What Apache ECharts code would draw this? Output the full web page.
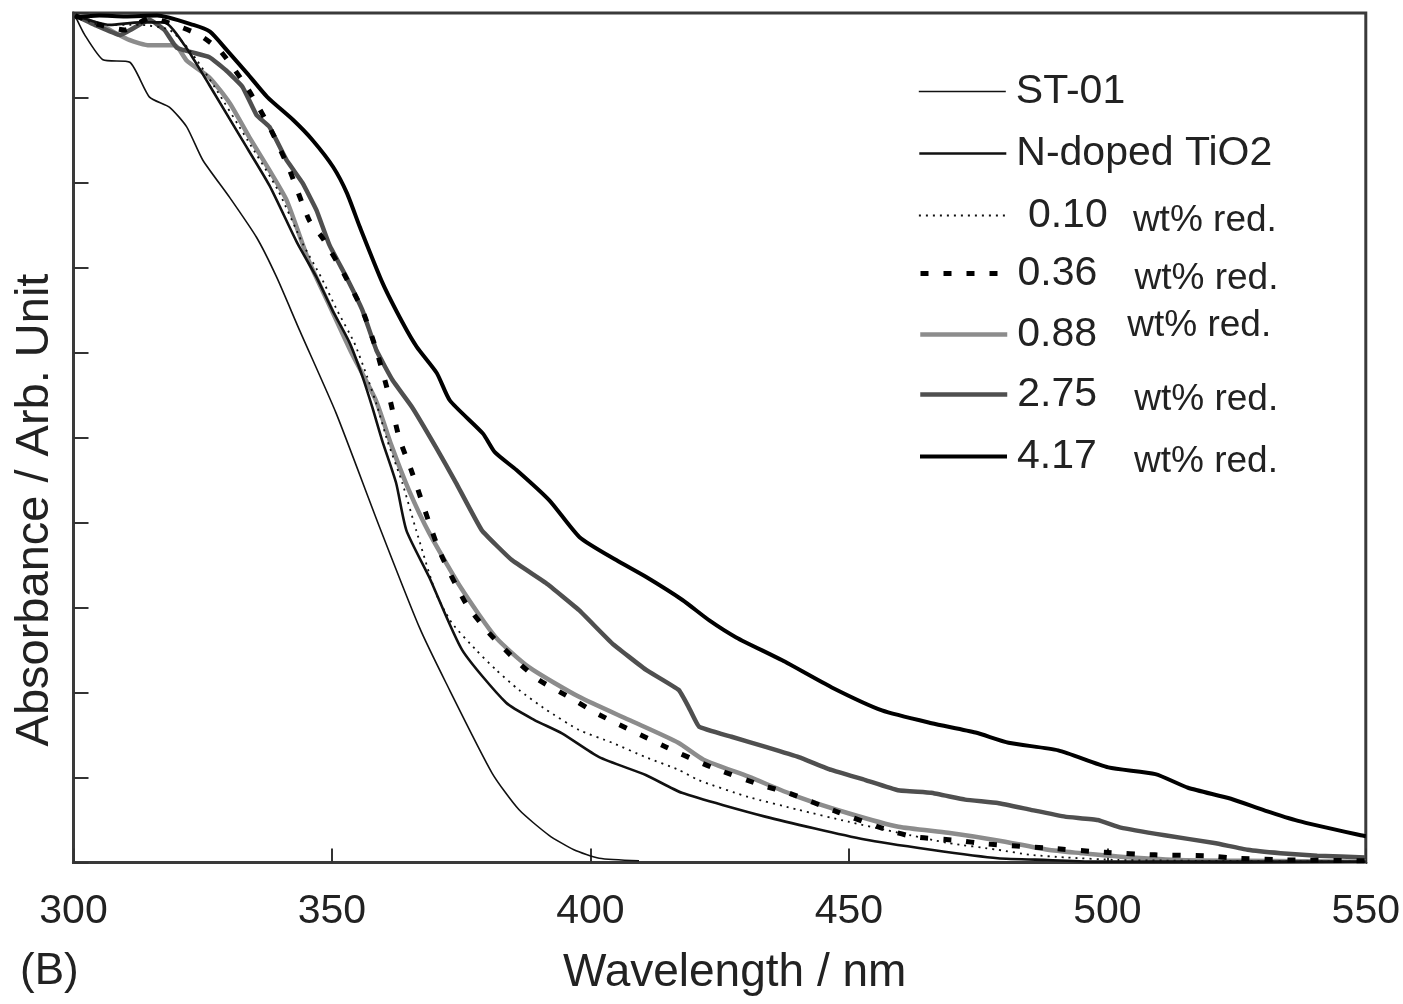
<!DOCTYPE html>
<html>
<head>
<meta charset="utf-8">
<script src="https://cdn.jsdelivr.net/npm/echarts@6/dist/echarts.min.js"></script>
<style>
html,body{margin:0;padding:0;background:#fff;}
#chart{width:1403px;height:1004px;}
</style>
</head>
<body>
<div id="chart"></div>
<script>
// ---- data (wavelength nm, absorbance arb. unit) ----
const xTicks = [300, 350, 400, 450, 500, 550];
const seriesNames = ['ST-01', 'N-doped TiO2', '0.10 wt% red.', '0.36 wt% red.', '0.88 wt% red.', '2.75 wt% red.', '4.17 wt% red.'];

const st01 = [[300.3,9.97],[302.2,9.74],[305.7,9.45],[310.9,9.42],[314.7,9.01],[318.6,8.89],[321.9,8.66],[325.0,8.27],[330.2,7.83],[335.4,7.36],[339.3,6.89],[343.7,6.27],[350.8,5.29],[359.2,3.95],[366.9,2.77],[372.1,2.11],[381.0,1.05],[386.2,0.62],[392.0,0.32],[396.8,0.15],[401.7,0.05],[409.4,0.02]];

const nDoped = [[300.3,9.97],[307.0,9.86],[312.8,9.89],[317.6,9.89],[321.5,9.62],[326.3,9.15],[332.7,8.50],[337.9,7.97],[343.3,7.29],[347.0,6.89],[350.1,6.50],[353.4,6.12],[355.9,5.72],[357.8,5.36],[359.7,4.97],[362.4,4.47],[364.4,3.91],[368.8,3.36],[375.2,2.50],[383.7,1.88],[389.1,1.68],[394.5,1.52],[401.7,1.24],[410.7,1.03],[417.7,0.82],[433.8,0.54],[453.1,0.27],[465.9,0.15],[478.8,0.05],[488.5,0.03],[498.1,0.01],[550,0.01]];

const red010 = [[300.3,9.97],[305.1,9.86],[312.8,9.86],[318.6,9.80],[322.5,9.56],[327.3,9.13],[333.7,8.50],[339.5,7.92],[344.3,7.29],[347.9,6.89],[351.0,6.50],[354.3,6.12],[356.8,5.72],[358.8,5.36],[360.7,4.97],[363.6,4.47],[366.3,3.91],[370.1,3.17],[373.2,2.82],[377.9,2.50],[381.7,2.27],[386.2,2.03],[391.4,1.80],[397.8,1.56],[404.2,1.41],[410.7,1.24],[417.1,1.09],[420.9,0.97],[430.6,0.77],[440.3,0.62],[449.9,0.48],[459.6,0.35],[469.2,0.23],[478.8,0.15],[485.2,0.09],[491.8,0.06],[502.0,0.03],[517.5,0.02],[550,0.01]];

const red036 = [[300.3,9.97],[305.1,9.86],[309.9,9.80],[314.7,9.94],[319.6,9.86],[324.4,9.74],[328.3,9.56],[333.5,9.13],[337.9,8.66],[341.8,8.15],[345.6,7.56],[348.1,7.36],[352.4,6.92],[355.9,6.50],[358.6,6.03],[361.1,5.48],[363.0,5.00],[365.5,4.59],[370.7,3.68],[375.9,3.05],[380.4,2.70],[385.6,2.38],[390.0,2.15],[395.8,1.95],[401.7,1.74],[414.6,1.36],[423.5,1.12],[433.1,0.91],[438.3,0.82],[448.0,0.59],[457.6,0.38],[462.8,0.30],[471.1,0.26],[476.3,0.22],[488.5,0.17],[499.5,0.12],[509.2,0.09],[518.8,0.08],[525.2,0.05],[534.8,0.03],[549.9,0.02]];

const red088 = [[300.3,9.97],[305.1,9.86],[310.9,9.68],[314.7,9.62],[319.6,9.62],[321.9,9.44],[326.3,9.24],[330.2,8.94],[334.0,8.54],[337.9,8.15],[341.2,7.80],[345.6,7.07],[349.5,6.56],[353.7,6.01],[358.5,5.44],[361.5,4.91],[364.9,4.38],[368.8,3.88],[375.2,3.21],[381.7,2.65],[388.1,2.30],[397.8,1.95],[407.4,1.68],[417.0,1.41],[421.9,1.21],[430.6,1.01],[440.3,0.77],[449.9,0.58],[459.6,0.42],[469.2,0.35],[478.8,0.26],[488.5,0.15],[494.9,0.11],[502.0,0.07],[513.6,0.03],[527.1,0.02],[550,0.01]];

const red275 = [[300.3,9.97],[304.1,9.86],[309.0,9.74],[314.7,9.92],[317.6,9.80],[320.0,9.59],[326.3,9.48],[329.6,9.32],[332.7,9.13],[335.4,8.80],[337.9,8.66],[341.2,8.27],[344.3,8.00],[347.0,7.68],[349.5,7.27],[352.8,6.89],[355.9,6.50],[358.6,6.03],[361.7,5.68],[365.5,5.36],[370.1,4.89],[374.0,4.47],[379.0,3.91],[384.8,3.56],[391.4,3.29],[397.8,2.97],[404.2,2.58],[410.7,2.27],[417.1,2.03],[419.0,1.83],[421.0,1.60],[427.3,1.48],[433.9,1.36],[440.3,1.24],[446.6,1.09],[453.2,0.97],[459.5,0.85],[465.9,0.82],[472.5,0.74],[478.8,0.70],[485.2,0.62],[491.8,0.54],[498.1,0.50],[502.6,0.41],[511.1,0.32],[520.7,0.23],[527.1,0.15],[533.5,0.11],[540.6,0.08],[549.9,0.06]];

const red417 = [[300.3,9.95],[305,9.97],[310,9.96],[316.2,9.97],[323.2,9.86],[326.4,9.78],[329.7,9.56],[333.6,9.29],[337.5,9.01],[342.5,8.74],[346.3,8.50],[350.2,8.19],[352.9,7.88],[355.4,7.48],[359.8,6.82],[363.7,6.35],[366.4,6.07],[370.3,5.76],[372.8,5.44],[379.2,5.05],[381.5,4.83],[385.7,4.62],[392.1,4.26],[397.9,3.83],[405.0,3.56],[410.8,3.36],[417.8,3.09],[423.0,2.85],[428.2,2.65],[437.1,2.38],[446.7,2.06],[456.4,1.79],[466.0,1.64],[474.5,1.53],[480.9,1.41],[490.5,1.32],[500.2,1.12],[509.3,1.04],[515.6,0.88],[523.9,0.75],[530.5,0.61],[536.9,0.49],[549.0,0.32],[550,0.31]];

const FONT = '"Liberation Sans", Arial, Helvetica, sans-serif';

function mk(name, data, color, width, type, z, smooth) {
  return {
    name: name, type: 'line', data: data, symbol: 'none', showSymbol: false,
    smooth: smooth || false,
    lineStyle: { color: color, width: width, type: type || 'solid', cap: 'butt', join: 'round' },
    itemStyle: { color: color },
    z: z || 2, animation: false
  };
}

const chart = echarts.init(document.getElementById('chart'), null, { renderer: 'canvas' });

const richStyles = {
  lab: { fontSize: 41, fontFamily: FONT, color: '#222', lineHeight: 47 },
  n: { fontSize: 41, fontFamily: FONT, color: '#222', width: 117, lineHeight: 47 },
  n1: { fontSize: 41, fontFamily: FONT, color: '#222', width: 105, padding: [0,0,0,12], lineHeight: 47 },
  n2: { fontSize: 41, fontFamily: FONT, color: '#222', width: 110, lineHeight: 47 },
  w: { fontSize: 37, fontFamily: FONT, color: '#222', lineHeight: 37, padding: [10,0,0,0] },
  w2: { fontSize: 37, fontFamily: FONT, color: '#222', lineHeight: 29, padding: [0,0,18,0] }
};

function fmt(name) {
  if (name === 'ST-01' || name === 'N-doped TiO2') return '{lab|' + name + '}';
  const num = name.split(' ')[0];
  if (num === '0.10') return '{n1|' + num + '}{w|wt% red.}';
  if (num === '0.88') return '{n2|' + num + '}{w2|wt% red.}';
  return '{n|' + num + '}{w|wt% red.}';
}

// one legend row per series, so each row sits where the original has it
const legendTops = [66, 128, 187, 245, 302, 366, 428];
const legends = seriesNames.map(function (nm, i) {
  return {
    orient: 'vertical', left: 913, top: legendTops[i],
    itemWidth: 87, itemHeight: 14,
    data: [nm],
    itemStyle: { opacity: 0 },
    lineStyle: { width: 'inherit', type: 'inherit' },
    textStyle: { fontSize: 41, fontFamily: FONT, color: '#222', rich: richStyles, padding: [0,0,0,5] },
    formatter: fmt
  };
});

chart.setOption({
  backgroundColor: '#fff',
  animation: false,
  grid: { left: 73.5, right: 34.5, top: 13, bottom: 141.5, show: true, borderColor: '#3a3a3a', borderWidth: 3, containLabel: false },
  xAxis: {
    type: 'value', min: 300, max: 550, interval: 50,
    name: 'Wavelength / nm', nameLocation: 'middle', nameGap: 88,
    nameTextStyle: { fontSize: 46, fontFamily: FONT, color: '#222', padding: [0,0,0,30] },
    axisLine: { show: true, lineStyle: { color: '#3a3a3a', width: 3 } },
    axisTick: { show: true, inside: true, length: 14, lineStyle: { color: '#333', width: 2 } },
    axisLabel: { show: true, fontSize: 41, fontFamily: FONT, color: '#222', margin: 29,
      formatter: function (v) { return xTicks.indexOf(v) >= 0 ? String(v) : ''; } },
    splitLine: { show: false }
  },
  yAxis: {
    type: 'value', min: 0, max: 10, interval: 1,
    axisLine: { show: true, lineStyle: { color: '#3a3a3a', width: 3 } },
    axisTick: { show: true, inside: true, length: 15, lineStyle: { color: '#333', width: 2 } },
    axisLabel: { show: false },
    splitLine: { show: false }
  },
  legend: legends,
  graphic: [
    { type: 'text', left: 20, top: 950, style: { text: '(B)', font: '44px ' + FONT, fill: '#222' } },
    { type: 'text', x: 35, y: 510, rotation: Math.PI / 2,
      style: { text: 'Absorbance / Arb. Unit', font: '47px ' + FONT, fill: '#222', align: 'center', verticalAlign: 'middle' } }
  ],
  series: [
    mk(seriesNames[0], st01, '#111', 1.6, 'solid', 3, 0.2),
    mk(seriesNames[1], nDoped, '#111', 2.6, 'solid', 3, 0.2),
    mk(seriesNames[2], red010, '#111', 1.8, [2, 5], 4, 0.2),
    mk(seriesNames[3], red036, '#000', 5, [8, 15], 6, 0.2),
    mk(seriesNames[4], red088, '#8c8c8c', 4.5, 'solid', 2, 0.2),
    mk(seriesNames[5], red275, '#4f4f4f', 4.5, 'solid', 2, 0.1),
    mk(seriesNames[6], red417, '#000', 4, 'solid', 3, 0.2)
  ]
});
</script>
</body>
</html>
